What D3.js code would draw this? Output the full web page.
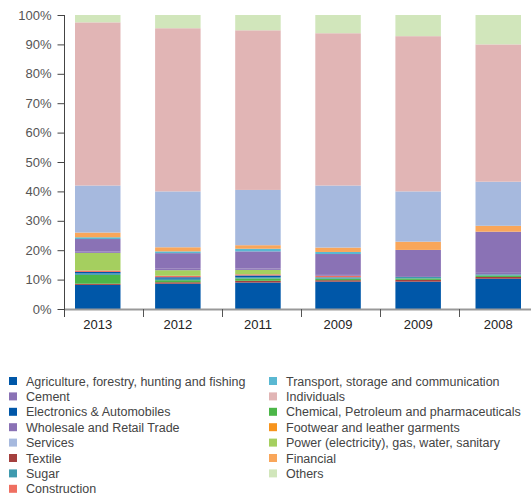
<!DOCTYPE html>
<html><head><meta charset="utf-8">
<script src="https://cdn.jsdelivr.net/npm/d3@7"></script>
<style>body{margin:0;background:#fff}svg{display:block}text{font-family:"Liberation Sans",Arial,sans-serif}</style>
</head><body><svg id="c" width="531" height="495"></svg>
<script>
const categories = ["2013","2012","2011","2009","2009","2008"];
const yTicks = [0,10,20,30,40,50,60,70,80,90,100];
// series values (% of total), bottom to top of stack
const agriculture  = [8.2, 8.6, 9.0, 9.3, 9.3, 10.3];
const textile      = [0.4, 0.5, 0.6, 0.5, 0.6, 0.6];
const chemical     = [3.0, 0.7, 0.8, 0.5, 0.5, 0.5];
const sugar        = [0.5, 0.5, 0.4, 0.5, 0.5, 0.4];
const electronics  = [0.5, 0.5, 0.6, 0.0, 0.0, 0.0];
const construction = [0.5, 0.5, 0.4, 0.5, 0.0, 0.0];
const power        = [6.0, 1.9, 1.5, 0.0, 0.0, 0.0];
const cement       = [0.5, 0.5, 0.5, 0.3, 0.3, 0.5];
const wholesale    = [4.2, 5.3, 5.8, 7.1, 8.9, 14.0];
const transport    = [0.6, 0.6, 0.9, 0.7, 0.0, 0.0];
const footwear     = [0.0, 0.0, 0.0, 0.0, 0.0, 0.0];
const financial    = [1.6, 1.4, 1.2, 1.5, 2.8, 2.0];
const services     = [16.0, 19.0, 18.8, 21.1, 17.1, 15.0];
const individuals  = [55.5, 55.5, 54.3, 51.8, 52.8, 46.7];
const others       = [2.5, 4.5, 5.2, 6.2, 7.2, 10.0];

const seriesNames = ["Agriculture, forestry, hunting and fishing","Textile","Chemical, Petroleum and pharmaceuticals","Sugar","Electronics & Automobiles","Construction","Power (electricity), gas, water, sanitary","Cement","Wholesale and Retail Trade","Transport, storage and communication","Footwear and leather garments","Financial","Services","Individuals","Others"];
const seriesValues = [agriculture,textile,chemical,sugar,electronics,construction,power,cement,wholesale,transport,footwear,financial,services,individuals,others];
const colors = {
 "Agriculture, forestry, hunting and fishing":"#0057a8","Cement":"#8a72b5","Electronics & Automobiles":"#0057a8",
 "Wholesale and Retail Trade":"#8a72b5","Services":"#a6b9de","Textile":"#a4403e","Sugar":"#3f9aae","Construction":"#ef6f61",
 "Transport, storage and communication":"#5ab8d2","Individuals":"#e1b5b5","Chemical, Petroleum and pharmaceuticals":"#4cb648",
 "Footwear and leather garments":"#f7941d","Power (electricity), gas, water, sanitary":"#a5cf5f","Financial":"#f9a65a","Others":"#d1e6bb"};
const legendCol1 = ["Agriculture, forestry, hunting and fishing","Cement","Electronics & Automobiles","Wholesale and Retail Trade","Services","Textile","Sugar","Construction"];
const legendCol2 = ["Transport, storage and communication","Individuals","Chemical, Petroleum and pharmaceuticals","Footwear and leather garments","Power (electricity), gas, water, sanitary","Financial","Others"];

const rows = categories.map((c,i)=>{const r={idx:i}; seriesNames.forEach((n,k)=>r[n]=seriesValues[k][i]); return r;});
const stack = d3.stack().keys(seriesNames)(rows);

const svg = d3.select("#c");
const idx = categories.map((c,i)=>i);
const y = d3.scaleLinear().domain([0,100]).range([309,15]);
const xBar = d3.scaleBand().domain(idx).range([75,521]).paddingInner(0.432).paddingOuter(0);
const xAxisBand = d3.scaleBand().domain(idx).range([64,538]).padding(0);

// bars
svg.append("g").selectAll("g").data(stack).join("g").attr("fill",d=>colors[d.key])
 .selectAll("rect").data(d=>d).join("rect")
 .attr("x",d=>xBar(d.data.idx)).attr("width",xBar.bandwidth())
 .attr("y",d=>y(d[1])).attr("height",d=>Math.max(0,y(d[0])-y(d[1])));

// x axis line
svg.append("line").attr("x1",64).attr("x2",531).attr("y1",309.5).attr("y2",309.5).attr("stroke","#999").attr("stroke-width",2);
// boundary ticks
svg.append("g").selectAll("line").data(idx.slice(1)).join("line")
 .attr("x1",d=>Math.round(xAxisBand(d))+0.5).attr("x2",d=>Math.round(xAxisBand(d))+0.5)
 .attr("y1",309).attr("y2",317).attr("stroke","#555").attr("stroke-width",1);
// x labels
const xa = svg.append("g").attr("transform","translate(0,310)")
 .call(d3.axisBottom(xBar).tickSize(0).tickPadding(10).tickFormat(i=>categories[i]));
xa.select(".domain").remove();
xa.selectAll("text").attr("font-size",13).attr("fill","#222").style("font-family","'Liberation Sans',Arial,sans-serif");

// y axis
const ya = svg.append("g").attr("transform","translate(64.5,0)")
 .call(d3.axisLeft(y).tickValues(yTicks).tickSize(7).tickPadding(6).tickFormat(d=>d+"%"));
ya.select(".domain").remove();
ya.selectAll(".tick line").attr("stroke","#444");
ya.selectAll("text").attr("font-size",13).attr("fill","#555").style("font-family","'Liberation Sans',Arial,sans-serif");
svg.append("line").attr("x1",64.5).attr("x2",64.5).attr("y1",15).attr("y2",317).attr("stroke","#444");

// legend
const leg = svg.append("g");
function drawCol(items,xSq){
  items.forEach((n,i)=>{
    const cy = 381 + i*15.4;
    leg.append("rect").attr("x",xSq).attr("y",cy-4).attr("width",8).attr("height",8).attr("fill",colors[n]);
    leg.append("text").attr("x",xSq+17).attr("y",cy).attr("dy","0.36em").attr("font-size",12.5).attr("fill","#444").text(n);
  });
}
drawCol(legendCol1,9);
drawCol(legendCol2,269);
</script></body></html>
